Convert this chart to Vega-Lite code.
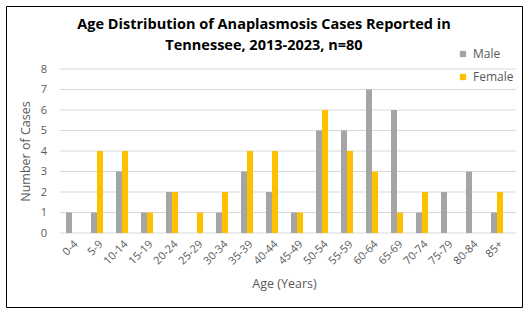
{
  "$schema": "https://vega.github.io/schema/vega-lite/v6.json",
  "width": 516,
  "height": 301,
  "autosize": {"type": "none"},
  "padding": {"left": 6, "top": 6, "right": 8, "bottom": 9},
  "background": "white",
  "title": {
    "text": ["Age Distribution of Anaplasmosis Cases Reported in", "Tennessee, 2013-2023, n=80"],
    "font": "Open Sans",
    "fontSize": 14.5,
    "fontWeight": "bold",
    "color": "#000000",
    "anchor": "middle",
    "lineHeight": 21,
    "offset": 17,
    "dy": 64
  },
  "layer": [
    {
      "data": {"values": [{"g": 0}, {"g": 1}, {"g": 2}, {"g": 3}, {"g": 4}, {"g": 5}, {"g": 6}, {"g": 7}, {"g": 8}]},
      "mark": {"type": "rule", "color": "#D9D9D9", "strokeWidth": 1, "xOffset": -6.5, "x2Offset": 18.5},
      "encoding": {
        "y": {
          "field": "g",
          "type": "quantitative",
          "scale": {"domain": [0, 8], "range": [227, 63], "nice": false},
          "axis": {
            "title": "Number of Cases",
            "values": [0, 1, 2, 3, 4, 5, 6, 7, 8],
            "labelOverlap": false,
            "domain": false,
            "ticks": false,
            "grid": false,
            "offset": -53.5,
            "labelPadding": 13,
            "titlePadding": 8,
            "titleY": 145
          }
        },
        "x": {
          "datum": "0-4",
          "bandPosition": 0,
          "scale": {
            "domain": ["0-4", "5-9", "10-14", "15-19", "20-24", "25-29", "30-34", "35-39", "40-44", "45-49", "50-54", "55-59", "60-64", "65-69", "70-74", "75-79", "80-84", "85+"],
            "range": [53.5, 503.5],
            "paddingInner": 0.52, "paddingOuter": 0.26
          },
          "axis": {
            "title": "Age (Years)",
            "labelAngle": -45,
            "domain": false,
            "ticks": false,
            "grid": false,
            "offset": -74,
            "labelPadding": 5,
            "titlePadding": 11,
            "titleX": 278
          }
        },
        "x2": {"datum": "85+"}
      }
    },
    {
      "data": {
        "values": [
          {"age": "0-4", "sex": "Male", "cases": 1},
          {"age": "0-4", "sex": "Female", "cases": 0},
          {"age": "5-9", "sex": "Male", "cases": 1},
          {"age": "5-9", "sex": "Female", "cases": 4},
          {"age": "10-14", "sex": "Male", "cases": 3},
          {"age": "10-14", "sex": "Female", "cases": 4},
          {"age": "15-19", "sex": "Male", "cases": 1},
          {"age": "15-19", "sex": "Female", "cases": 1},
          {"age": "20-24", "sex": "Male", "cases": 2},
          {"age": "20-24", "sex": "Female", "cases": 2},
          {"age": "25-29", "sex": "Male", "cases": 0},
          {"age": "25-29", "sex": "Female", "cases": 1},
          {"age": "30-34", "sex": "Male", "cases": 1},
          {"age": "30-34", "sex": "Female", "cases": 2},
          {"age": "35-39", "sex": "Male", "cases": 3},
          {"age": "35-39", "sex": "Female", "cases": 4},
          {"age": "40-44", "sex": "Male", "cases": 2},
          {"age": "40-44", "sex": "Female", "cases": 4},
          {"age": "45-49", "sex": "Male", "cases": 1},
          {"age": "45-49", "sex": "Female", "cases": 1},
          {"age": "50-54", "sex": "Male", "cases": 5},
          {"age": "50-54", "sex": "Female", "cases": 6},
          {"age": "55-59", "sex": "Male", "cases": 5},
          {"age": "55-59", "sex": "Female", "cases": 4},
          {"age": "60-64", "sex": "Male", "cases": 7},
          {"age": "60-64", "sex": "Female", "cases": 3},
          {"age": "65-69", "sex": "Male", "cases": 6},
          {"age": "65-69", "sex": "Female", "cases": 1},
          {"age": "70-74", "sex": "Male", "cases": 1},
          {"age": "70-74", "sex": "Female", "cases": 2},
          {"age": "75-79", "sex": "Male", "cases": 2},
          {"age": "75-79", "sex": "Female", "cases": 0},
          {"age": "80-84", "sex": "Male", "cases": 3},
          {"age": "80-84", "sex": "Female", "cases": 0},
          {"age": "85+", "sex": "Male", "cases": 1},
          {"age": "85+", "sex": "Female", "cases": 2}
        ]
      },
      "mark": {"type": "bar"},
      "encoding": {
        "x": {
          "field": "age",
          "type": "nominal",
          "sort": null,
          "scale": {
            "domain": ["0-4", "5-9", "10-14", "15-19", "20-24", "25-29", "30-34", "35-39", "40-44", "45-49", "50-54", "55-59", "60-64", "65-69", "70-74", "75-79", "80-84", "85+"],
            "range": [53.5, 503.5],
            "paddingInner": 0.52, "paddingOuter": 0.26
          },
          "axis": {
            "title": "Age (Years)",
            "labelAngle": -45,
            "domain": false,
            "ticks": false,
            "grid": false,
            "offset": -74,
            "labelPadding": 5,
            "titlePadding": 11,
            "titleX": 278
          }
        },
        "xOffset": {
          "field": "sex",
          "type": "nominal",
          "sort": ["Male", "Female"],
          "scale": {"paddingInner": 0, "paddingOuter": 0}
        },
        "y": {
          "field": "cases",
          "type": "quantitative",
          "scale": {"domain": [0, 8], "range": [227, 63], "nice": false},
          "axis": {
            "title": "Number of Cases",
            "values": [0, 1, 2, 3, 4, 5, 6, 7, 8],
            "labelOverlap": false,
            "domain": false,
            "ticks": false,
            "grid": false,
            "offset": -53.5,
            "labelPadding": 13,
            "titlePadding": 8,
            "titleY": 145
          }
        },
        "color": {
          "field": "sex",
          "type": "nominal",
          "scale": {"domain": ["Male", "Female"], "range": ["#A5A5A5", "#FFC000"]},
          "legend": {
            "title": null,
            "orient": "none",
            "legendX": 451,
            "legendY": 42,
            "symbolType": "square",
            "symbolSize": 40,
            "symbolStrokeWidth": 0,
            "rowPadding": 11,
            "labelOffset": 4,
            "padding": 0
          }
        }
      }
    }
  ],
  "config": {
    "font": "Open Sans",
    "view": {"stroke": "#000000", "strokeWidth": 1},
    "axis": {
      "labelFont": "Open Sans",
      "labelFontSize": 11,
      "labelColor": "#595959",
      "titleFont": "Open Sans",
      "titleFontSize": 12.5,
      "titleFontWeight": "normal",
      "titleColor": "#595959"
    },
    "legend": {
      "labelFont": "Open Sans",
      "labelFontSize": 12,
      "labelColor": "#595959"
    }
  }
}
